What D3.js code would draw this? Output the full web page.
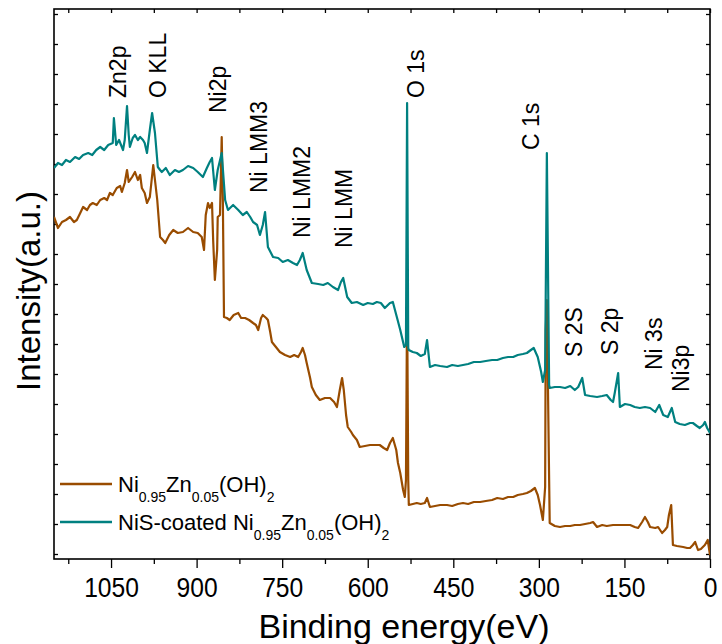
<!DOCTYPE html>
<html><head><meta charset="utf-8">
<script src="https://cdn.jsdelivr.net/npm/d3@7"></script>
<style>
body{margin:0;background:#fff}
svg{display:block}
text{font-family:"Liberation Sans",Arial,Helvetica,sans-serif;fill:#000}
</style>
</head><body>
<svg id="chart" width="722" height="644"></svg>
<script>
// ---------- data ----------
const xTickValues = [1050, 900, 750, 600, 450, 300, 150, 0];
const xMinorValues = [1125, 975, 825, 675, 525, 375, 225, 75];
const seriesNames = ["Ni0.95Zn0.05(OH)2", "NiS-coated Ni0.95Zn0.05(OH)2"];
const seriesColors = ["#994c00", "#008080"];

// binding energy (eV), intensity (a.u.)
const bare = [
[1150,337],[1143,326],[1136,332],[1129,334],[1122,337],[1115,332],[1110,334],[1104,341],[1099,347],[1092,344],
[1087,349],[1082,351],[1075,349],[1069,354],[1062,356],[1057,354],[1052,361],[1047,359],[1040,366],[1034,368],
[1031,362],[1026,371],[1022,384],[1019,372],[1013,377],[1008,382],[1003,374],[999,379],[996,366],[991,361],
[987,351],[982,357],[976,389],[973,374],[969,354],[964,317],[959,314],[955,311],[948,319],[941,324],
[933,321],[924,322],[915,326],[906,322],[898,321],[891,317],[887,304],[884,339],[880,351],[877,346],
[873,351],[871,314],[868,274],[864,304],[863,337],[859,339],[856,417],[854,354],[852,237],[847,236],
[842,234],[835,239],[827,241],[822,236],[815,236],[808,234],[801,231],[796,229],[792,224],[787,236],
[784,239],[778,236],[775,234],[771,222],[768,212],[761,207],[754,202],[745,199],[736,197],[729,199],
[722,197],[717,202],[714,206],[710,199],[707,191],[701,176],[698,167],[691,159],[684,154],[675,156],
[666,156],[659,152],[654,147],[649,164],[645,176],[642,164],[638,139],[635,127],[629,122],[626,119],
[619,114],[614,107],[605,108],[596,109],[587,109],[579,109],[572,106],[566,104],[561,111],[556,116],
[550,104],[547,91],[543,81],[538,64],[535,57],[533,74],[531,254],[529,74],[528,49],[521,50],
[514,51],[507,50],[500,51],[496,56],[491,47],[482,48],[473,49],[461,49],[452,48],[442,50],
[433,51],[424,50],[414,52],[403,52],[393,53],[382,54],[373,56],[363,55],[354,57],[345,57],
[337,59],[328,60],[321,61],[314,63],[307,66],[302,59],[298,49],[293,34],[289,67],[288,224],
[286,254],[282,74],[281,31],[272,28],[263,27],[254,28],[245,28],[237,29],[228,29],[219,30],
[210,31],[205,32],[198,27],[189,29],[181,28],[170,29],[161,29],[153,29],[140,29],[132,27],
[126,26],[119,32],[114,37],[109,32],[105,27],[96,26],[91,27],[84,21],[79,24],[75,27],
[72,39],[68,49],[65,9],[58,8],[47,7],[40,6],[35,6],[30,9],[26,12],[21,4],
[16,5],[9,9],[4,14],[0,-1]
];

const coated = [
[1150,386],[1143,391],[1136,389],[1129,394],[1122,392],[1113,397],[1106,395],[1099,399],[1090,401],[1083,399],
[1076,404],[1069,407],[1062,404],[1055,409],[1047,411],[1045,436],[1041,409],[1036,414],[1029,404],[1026,414],
[1022,448],[1019,419],[1017,407],[1012,416],[1008,419],[1003,414],[999,417],[994,414],[991,411],[987,401],
[982,424],[978,441],[973,421],[968,387],[964,384],[961,382],[954,386],[947,379],[938,384],[931,382],
[924,384],[915,388],[906,386],[898,382],[889,377],[882,386],[877,392],[873,396],[868,364],[863,384],
[856,401],[850,354],[845,344],[836,349],[827,344],[819,339],[812,342],[806,337],[801,332],[794,329],
[789,319],[784,329],[780,342],[775,307],[766,297],[757,296],[749,292],[740,294],[731,291],[724,289],
[719,294],[714,301],[707,284],[698,271],[687,270],[678,269],[670,271],[661,267],[652,264],[647,272],
[643,276],[636,257],[628,251],[619,252],[608,249],[600,251],[591,250],[584,252],[577,251],[570,246],
[561,251],[556,252],[549,237],[543,224],[536,207],[533,209],[531,451],[529,206],[528,204],[521,202],
[514,201],[507,198],[500,200],[496,214],[491,187],[482,189],[473,188],[461,187],[452,189],[442,188],
[433,189],[424,190],[414,192],[403,192],[393,193],[382,194],[373,194],[363,196],[354,197],[345,197],
[337,199],[328,200],[321,201],[314,204],[309,206],[302,197],[296,182],[293,172],[289,184],[286,401],
[282,169],[281,166],[272,167],[263,167],[254,166],[245,168],[237,164],[231,167],[224,176],[219,159],
[210,158],[198,157],[189,158],[181,159],[174,154],[170,152],[167,161],[161,181],[158,147],[149,150],
[140,149],[132,147],[123,146],[114,147],[105,146],[96,142],[89,149],[82,139],[74,137],[67,146],
[61,132],[53,130],[44,129],[35,131],[30,131],[23,128],[18,126],[12,129],[9,132],[5,126],[0,121]
];

// peak annotations: text, anchor energy (eV), anchor intensity (a.u.)
const peakLabels = ["Zn2p","O KLL","Ni2p","Ni LMM3","Ni LMM2","Ni LMM","O 1s","C 1s","S 2S","S 2p","Ni 3s","Ni3p"];
const peakEnergy = [1023, 953, 848, 776, 702, 628, 502, 299, 224, 162, 85, 36];
const peakIntensity = [456, 456, 441, 361, 316, 306, 456, 404, 197, 199, 184, 162];

// ---------- layout ----------
const svg = d3.select("#chart");
const L = 54, R = 710, T = 9, B = 559;
const x = d3.scaleLinear().domain([1150, 0]).range([L, R]);
const y = d3.scaleLinear().domain([-5, 545]).range([B, T]);
const yTickValues = d3.range(0, 545, 30);

// frame
svg.append("rect").attr("x", L).attr("y", T).attr("width", R - L).attr("height", B - T)
  .attr("fill", "none").attr("stroke", "#000").attr("stroke-width", 1.6);

const tickStyle = g => { g.select(".domain").remove(); g.selectAll("line").attr("stroke", "#000").attr("stroke-width", 1.3); };

// bottom axis major
const gx = svg.append("g").attr("transform", `translate(0,${B})`)
  .call(d3.axisBottom(x).tickValues(xTickValues).tickSize(9).tickPadding(9).tickFormat(d3.format("d")))
  .call(tickStyle);
gx.selectAll("text").attr("font-size", 28).attr("fill", "#000")
  .attr("transform", "scale(0.88,1)").attr("font-family", '"Liberation Sans",Arial,sans-serif');
// bottom minor
svg.append("g").attr("transform", `translate(0,${B})`)
  .call(d3.axisBottom(x).tickValues(xMinorValues).tickSize(5).tickFormat(""))
  .call(tickStyle);
// top inward
svg.append("g").attr("transform", `translate(0,${T})`)
  .call(d3.axisBottom(x).tickValues(xTickValues.concat(xMinorValues)).tickSize(4).tickFormat(""))
  .call(tickStyle);
// left inward
svg.append("g").attr("transform", `translate(${L},0)`)
  .call(d3.axisRight(y).tickValues(yTickValues).tickSize(4).tickFormat(""))
  .call(tickStyle);
// right inward
svg.append("g").attr("transform", `translate(${R},0)`)
  .call(d3.axisLeft(y).tickValues(yTickValues).tickSize(4).tickFormat(""))
  .call(tickStyle);

// lines
const line = d3.line().x(d => x(d[0])).y(d => y(d[1]));
svg.append("clipPath").attr("id", "clp").append("rect")
  .attr("x", L).attr("y", T).attr("width", R - L).attr("height", B - T);
[bare, coated].forEach((s, i) => {
  svg.append("path").datum(s).attr("d", line).attr("fill", "none")
    .attr("stroke", seriesColors[i]).attr("stroke-width", 2.2).attr("stroke-linejoin", "round")
    .attr("clip-path", "url(#clp)");
});

// peak labels
peakLabels.forEach((t, i) => {
  svg.append("text")
    .attr("transform", `translate(${x(peakEnergy[i])},${y(peakIntensity[i])}) rotate(-90)`)
    .attr("font-size", 23).text(t);
});

// axis titles
svg.append("text").attr("transform", "translate(40,291) rotate(-90)")
  .attr("text-anchor", "middle").attr("font-size", 33).text("Intensity(a.u.)");
svg.append("text").attr("x", 404).attr("y", 638)
  .attr("text-anchor", "middle").attr("font-size", 34).text("Binding energy(eV)");

// legend
const legendRows = [
  [["Ni", 0], ["0.95", 1], ["Zn", 0], ["0.05", 1], ["(OH)", 0], ["2", 1]],
  [["NiS-coated Ni", 0], ["0.95", 1], ["Zn", 0], ["0.05", 1], ["(OH)", 0], ["2", 1]]
];
const legendY = [484, 522];
legendRows.forEach((row, i) => {
  svg.append("line").attr("x1", 60).attr("x2", 112).attr("y1", legendY[i]).attr("y2", legendY[i])
    .attr("stroke", seriesColors[i]).attr("stroke-width", 2.4);
  const t = svg.append("text").attr("x", 118).attr("y", legendY[i] + 8).attr("font-size", 22);
  row.forEach(([s, sub], j) => {
    const prevSub = j > 0 ? row[j - 1][1] : 0;
    t.append("tspan").attr("font-size", sub ? 14 : 22)
      .attr("dy", sub && !prevSub ? 10 : (!sub && prevSub ? -10 : 0)).text(s);
  });
});
</script>
</body></html>
